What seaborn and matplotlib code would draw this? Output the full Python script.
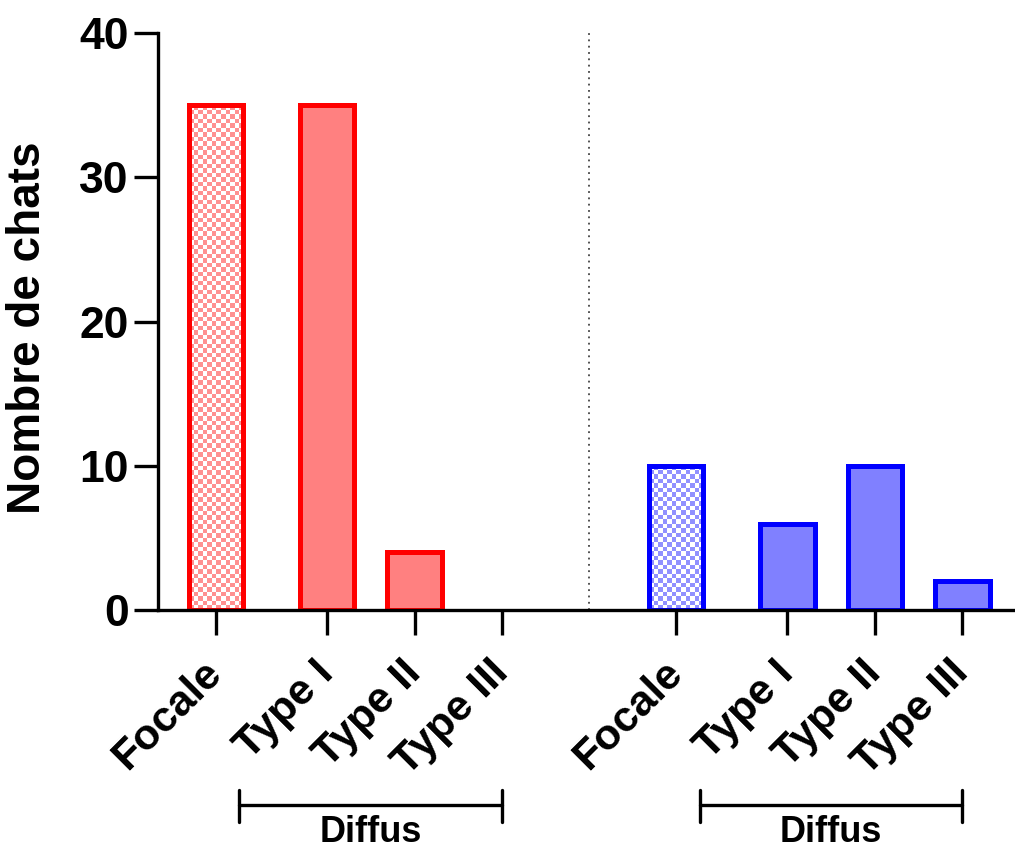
import numpy as np
import matplotlib
matplotlib.use("Agg")
import matplotlib.pyplot as plt
import seaborn as sns

# data
categories = ["Focale", "Type I", "Type II", "Type III"]
red_counts = [35, 35, 4, 0]
blue_counts = [10, 6, 10, 2]
bracket_label = "Diffus"
y_label = "Nombre de chats"
y_ticks = [0, 10, 20, 30, 40]

C = {"red_edge": "#FF0000", "red_fill": "#FF8080", "red_check": "#FF9090",
     "blue_edge": "#0000FF", "blue_fill": "#8080FF", "blue_check": "#9090FF"}

sns.set_style("ticks")
plt.rcParams["font.family"] = ["Liberation Sans", "DejaVu Sans"]
plt.rcParams["font.weight"] = "bold"
plt.rcParams["text.color"] = "black"
plt.rcParams["xtick.color"] = "black"
plt.rcParams["ytick.color"] = "black"
plt.rcParams["axes.edgecolor"] = "black"
plt.rcParams["axes.labelcolor"] = "black"

fig = plt.figure(figsize=(10.15, 8.52), dpi=100, facecolor="white")
ax = fig.add_axes([0.1557, 0.284, 0.8443, 0.677])

# category layout: Focale set apart a bit from the diffuse types
within = np.array([0.0, 1.27, 2.27, 3.27])
offset = 5.26
pos_red = within
pos_blue = within + offset
bar_w = 0.62

sns.barplot(x=pos_red, y=red_counts, native_scale=True, ax=ax,
            color=C["red_fill"], saturation=1, width=bar_w,
            edgecolor=C["red_edge"], linewidth=3.6)
sns.barplot(x=pos_blue, y=blue_counts, native_scale=True, ax=ax,
            color=C["blue_fill"], saturation=1, width=bar_w,
            edgecolor=C["blue_edge"], linewidth=3.6)

ax.set_xlim(-0.66, 9.13)
ax.set_ylim(0, 40)

# hide zero-height bars, checker pattern on the "Focale" bars
bars = list(ax.patches)
for b in bars:
    if b.get_height() == 0:
        b.set_visible(False)

fig.canvas.draw()
for b, check in [(bars[0], C["red_check"]), (bars[4], C["blue_check"])]:
    x0, y0 = b.get_x(), b.get_y()
    w, h = b.get_width(), b.get_height()
    (px0, py0), (px1, py1) = ax.transData.transform([(x0, y0), (x0 + w, y0 + h)])
    nx = max(1, int(round((px1 - px0) / 4.5)))
    ny = max(1, int(round((py1 - py0) / 4.5)))
    board = (np.indices((ny, nx)).sum(axis=0) % 2).astype(float)
    cmap = matplotlib.colors.ListedColormap(["white", check])
    im = ax.imshow(board, cmap=cmap, extent=(x0, x0 + w, y0, y0 + h),
                   aspect="auto", interpolation="nearest", zorder=b.get_zorder())
    im.set_clip_path(b)
    b.set_facecolor("none")
    b.set_zorder(b.get_zorder() + 0.5)
ax.set_xlim(-0.66, 9.13)
ax.set_ylim(0, 40)

# separator between the two series
ax.axvline(offset - 1.0, color="#444444", linestyle=(0, (1, 2.5)), linewidth=1.3)

# axes styling
for s in ["top", "right"]:
    ax.spines[s].set_visible(False)
for s in ["left", "bottom"]:
    ax.spines[s].set_linewidth(2.4)
ax.set_yticks(y_ticks)
ax.set_yticklabels([str(t) for t in y_ticks], fontsize=32, fontweight="bold")
ax.tick_params(axis="y", length=17, width=2.4, pad=4)
ax.tick_params(axis="x", length=18, width=2.4, pad=23)
ax.set_xticks(list(pos_red) + list(pos_blue))
ax.set_xticklabels(categories * 2, rotation=45, ha="right", va="center",
                   rotation_mode="anchor", fontsize=31, fontweight="bold")
ax.set_ylabel(y_label, fontsize=33, fontweight="bold")
ax.yaxis.set_label_coords(-0.126, 0.49)
ax.set_xlabel("")

# "Diffus" brackets under the diffuse types
tr = ax.get_xaxis_transform()
for off in [0.0, offset]:
    xa, xb = off + 0.27, off + 3.27
    yb = -0.338
    ax.plot([xa, xb], [yb, yb], color="black", lw=2.4, transform=tr, clip_on=False)
    for xe in (xa, xb):
        ax.plot([xe, xe], [yb + 0.026, yb - 0.03], color="black", lw=2.4,
                transform=tr, clip_on=False)
    ax.text((xa + xb) / 2, -0.403, bracket_label, transform=tr,
            ha="center", va="baseline", fontsize=26, fontweight="bold")

fig.savefig("out.png", dpi=100, facecolor="white")
plt.close(fig)
